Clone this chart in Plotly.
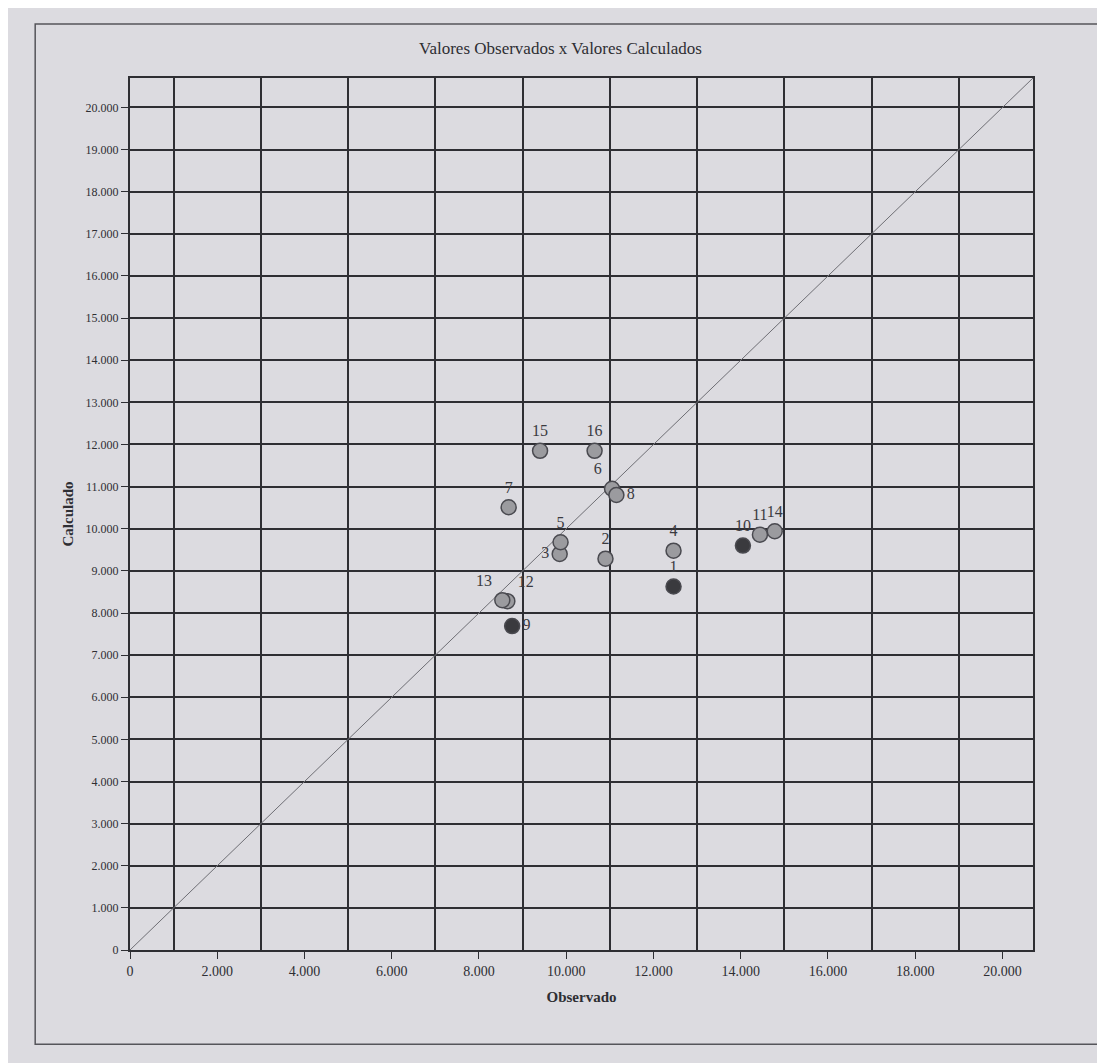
import plotly.graph_objects as go

# ---- data ----
point_labels = ["1", "2", "3", "4", "5", "6", "7", "8",
                "9", "10", "11", "12", "13", "14", "15", "16"]
observado = [12460, 10900, 9850, 12460, 9870, 11050, 8680, 11150,
             8760, 14050, 14440, 8650, 8535, 14780, 9400, 10650]
calculado = [8630, 9290, 9400, 9480, 9680, 10950, 10510, 10800,
             7690, 9600, 9860, 8280, 8305, 9940, 11850, 11850]
dark_points = ["1", "9", "10"]

x_tick_vals = [0, 2000, 4000, 6000, 8000, 10000, 12000, 14000, 16000, 18000, 20000]
x_tick_text = ["0", "2.000", "4.000", "6.000", "8.000", "10.000", "12.000",
               "14.000", "16.000", "18.000", "20.000"]
x_grid_vals = [1000, 3000, 5000, 7000, 9000, 11000, 13000, 15000, 17000, 19000]
y_tick_vals = list(range(0, 21000, 1000))
y_tick_text = ["0"] + [f"{v // 1000}.000" for v in y_tick_vals[1:]]

axis_max = 20700
identity_line = [0, axis_max]

BG = "#dcdbe0"
INK = "#2e2e33"
SERIF = "Liberation Serif, Times New Roman, serif"

# label placement to keep crowded labels readable
label_pos = {"3": "middle left", "6": "top left", "8": "middle right",
             "9": "middle right", "12": "top right", "13": "top left"}
text_positions = [label_pos.get(lab, "top center") for lab in point_labels]

fig = go.Figure()

# identity line y = x
fig.add_trace(go.Scatter(x=identity_line, y=identity_line, mode="lines",
                         line=dict(color="#6e6e74", width=1),
                         hoverinfo="skip", showlegend=False))

colors = ["#3a3a3e" if lab in dark_points else "#9b9b9f" for lab in point_labels]
fig.add_trace(go.Scatter(
    x=observado, y=calculado, mode="markers+text",
    text=point_labels, textposition=text_positions,
    textfont=dict(family=SERIF, size=16, color="#3a3a40"),
    marker=dict(size=15, color=colors, line=dict(color="#4a4a50", width=1.5)),
    showlegend=False))

fig.update_layout(
    width=1105, height=1063,
    paper_bgcolor=BG, plot_bgcolor=BG,
    margin=dict(l=122, r=80, t=70, b=121),
    title=dict(text="Valores Observados x Valores Calculados",
               x=0.5, xanchor="center", y=0.962, yanchor="middle",
               font=dict(family=SERIF, size=17, color=INK)),
    font=dict(family=SERIF, color=INK),
    xaxis=dict(range=[0, axis_max], tickmode="array",
               tickvals=x_tick_vals, ticktext=x_tick_text,
               showgrid=False, zeroline=False,
               ticks="outside", ticklen=7, tickcolor=INK,
               showline=True, linecolor=INK, linewidth=2, mirror=True,
               tickfont=dict(family=SERIF, size=14, color=INK),
               minor=dict(tickmode="array", tickvals=x_grid_vals,
                          showgrid=True, gridcolor=INK, gridwidth=1.5, ticklen=0),
               title=dict(text="<b>Observado</b>", standoff=14,
                          font=dict(family=SERIF, size=15, color=INK))),
    yaxis=dict(range=[0, axis_max], tickmode="array",
               tickvals=y_tick_vals, ticktext=y_tick_text,
               showgrid=True, gridcolor=INK, gridwidth=1.5, zeroline=False,
               ticks="outside", ticklen=7, tickcolor=INK,
               showline=True, linecolor=INK, linewidth=2, mirror=True,
               tickfont=dict(family=SERIF, size=12, color=INK),
               title=dict(text="<b>Calculado</b>", standoff=8,
                          font=dict(family=SERIF, size=15, color=INK))),
)

# outer frame around the chart
fig.add_shape(type="rect", xref="paper", yref="paper",
              x0=-0.105, x1=1.078, y0=-0.108, y1=1.062,
              line=dict(color="#55555a", width=1.5), layer="below")

fig.write_html("out.html")
